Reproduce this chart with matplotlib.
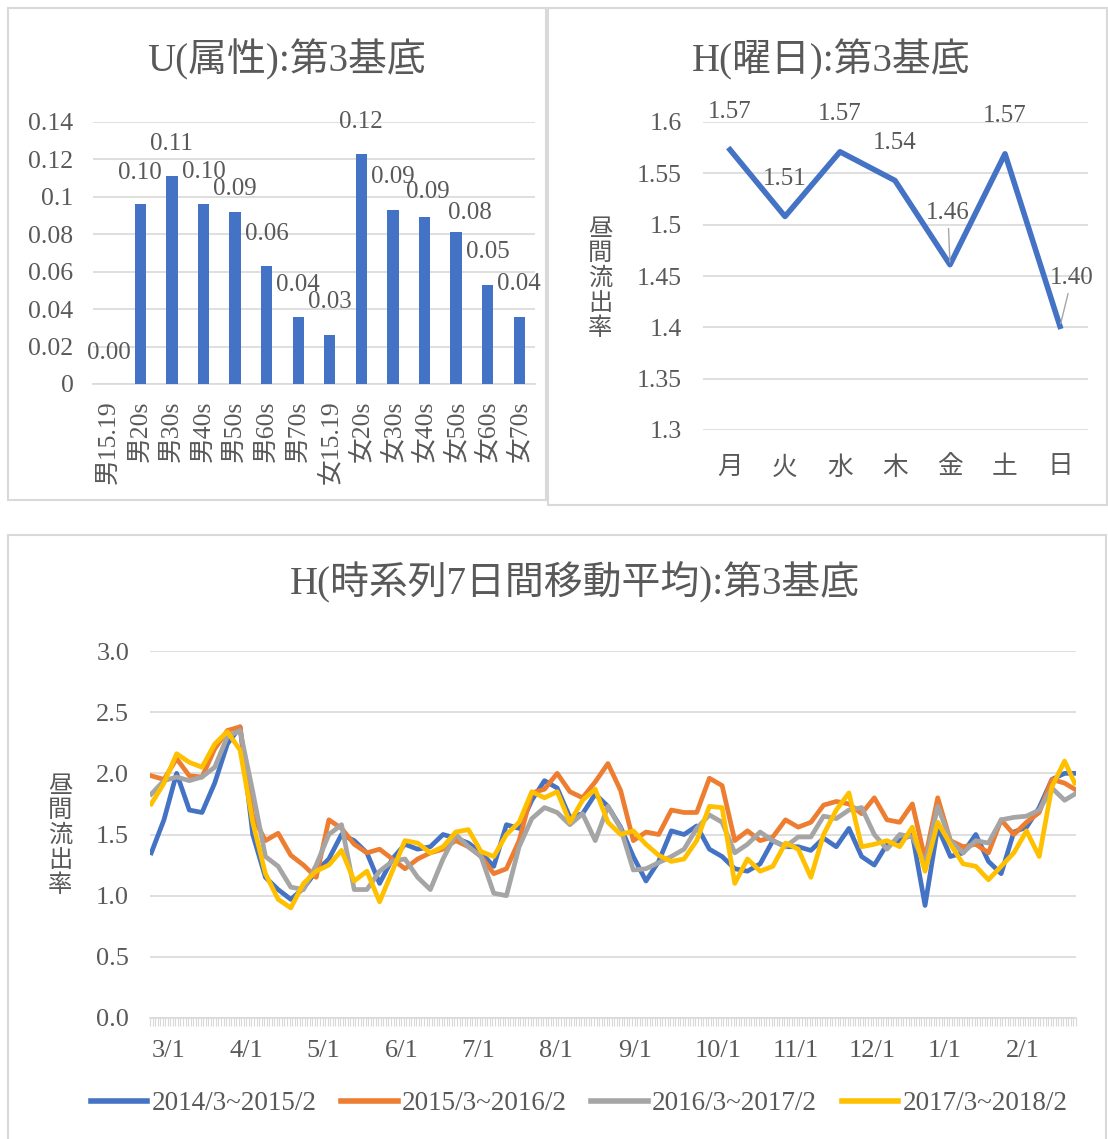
import numpy as np
import matplotlib
matplotlib.use("Agg")
import matplotlib.pyplot as plt
from matplotlib.patches import Rectangle
from matplotlib.lines import Line2D

plt.rcParams['font.family'] = ['Liberation Serif', 'Noto Sans CJK JP']

TXT = '#595959'
GRID = '#d9d9d9'
W, H = 1108, 1139

# U(属性):第3基底
attr_labels = ['男15.19', '男20s', '男30s', '男40s', '男50s', '男60s', '男70s',
               '女15.19', '女20s', '女30s', '女40s', '女50s', '女60s', '女70s']
attr_values = [0.000, 0.096, 0.111, 0.096, 0.092, 0.063, 0.036,
               0.026, 0.123, 0.093, 0.089, 0.081, 0.053, 0.036]

# H(曜日):第3基底
dow_labels = ['月', '火', '水', '木', '金', '土', '日']
dow_values = [1.573, 1.508, 1.571, 1.543, 1.461, 1.569, 1.401]

# H(時系列7日間移動平均):第3基底  (values read every 5 days)
days = list(range(0, 365, 5)) + [364]
month_days = [0, 31, 61, 92, 122, 153, 184, 214, 245, 275, 306, 337]
month_labels = ['3/1', '4/1', '5/1', '6/1', '7/1', '8/1', '9/1', '10/1',
                '11/1', '12/1', '1/1', '2/1']
series_names = ['2014/3~2015/2', '2015/3~2016/2', '2016/3~2017/2', '2017/3~2018/2']

h_2014 = [1.35, 1.62, 2.00, 1.70, 1.68, 1.92, 2.24, 2.38, 1.50, 1.15, 1.05,
          0.97, 1.06, 1.20, 1.30, 1.50, 1.45, 1.35, 1.10, 1.30, 1.42, 1.38,
          1.40, 1.50, 1.47, 1.43, 1.35, 1.24, 1.58, 1.55, 1.78, 1.94,
          1.88, 1.64, 1.67, 1.83, 1.73, 1.56, 1.32, 1.12, 1.28, 1.53, 1.50,
          1.57, 1.38, 1.32, 1.22, 1.20, 1.26, 1.45, 1.40, 1.40, 1.37, 1.47,
          1.40, 1.55, 1.32, 1.25, 1.42, 1.45, 1.50, 0.92, 1.56, 1.32,
          1.35, 1.50, 1.28, 1.18, 1.52, 1.56, 1.72, 1.95, 2.00, 2.00]
h_2015 = [1.98, 1.95, 2.12, 1.98, 1.97, 2.20, 2.35, 2.38, 1.65, 1.45, 1.51,
          1.33, 1.25, 1.15, 1.62, 1.55, 1.42, 1.35, 1.38, 1.30, 1.22, 1.30,
          1.35, 1.38, 1.45, 1.40, 1.32, 1.18, 1.22, 1.45, 1.84, 1.87,
          2.00, 1.85, 1.80, 1.93, 2.08, 1.86, 1.45, 1.52, 1.50, 1.70, 1.68,
          1.68, 1.96, 1.90, 1.45, 1.53, 1.45, 1.48, 1.62, 1.56, 1.60, 1.74,
          1.77, 1.75, 1.67, 1.80, 1.62, 1.60, 1.75, 1.30, 1.80, 1.45,
          1.40, 1.42, 1.35, 1.62, 1.50, 1.60, 1.68, 1.95, 1.92, 1.87]
h_2016 = [1.83, 1.94, 1.97, 1.94, 1.97, 2.05, 2.30, 2.35, 1.85, 1.32, 1.24,
          1.07, 1.05, 1.25, 1.50, 1.58, 1.05, 1.05, 1.20, 1.28, 1.30, 1.15,
          1.05, 1.30, 1.50, 1.40, 1.32, 1.02, 1.00, 1.40, 1.63, 1.72,
          1.68, 1.58, 1.67, 1.45, 1.73, 1.55, 1.21, 1.22, 1.27, 1.32, 1.38,
          1.55, 1.66, 1.60, 1.35, 1.42, 1.52, 1.45, 1.40, 1.48, 1.48, 1.65,
          1.63, 1.70, 1.72, 1.50, 1.38, 1.50, 1.48, 1.26, 1.73, 1.45,
          1.35, 1.45, 1.43, 1.62, 1.64, 1.65, 1.70, 1.88, 1.78, 1.83]
h_2017 = [1.75, 1.92, 2.16, 2.09, 2.05, 2.24, 2.34, 2.19, 1.60, 1.18, 0.97,
          0.90, 1.10, 1.20, 1.25, 1.37, 1.12, 1.20, 0.95, 1.20, 1.45, 1.43,
          1.35, 1.40, 1.52, 1.54, 1.36, 1.32, 1.50, 1.60, 1.85, 1.80,
          1.85, 1.60, 1.78, 1.87, 1.60, 1.50, 1.53, 1.42, 1.33, 1.28, 1.30,
          1.45, 1.73, 1.72, 1.10, 1.30, 1.20, 1.24, 1.43, 1.38, 1.15, 1.50,
          1.70, 1.84, 1.40, 1.42, 1.45, 1.40, 1.56, 1.20, 1.60, 1.42,
          1.26, 1.24, 1.13, 1.24, 1.35, 1.53, 1.32, 1.89, 2.10, 1.92]
series_values = [h_2014, h_2015, h_2016, h_2017]
series_colors = ['#4472C4', '#ED7D31', '#A5A5A5', '#FFC000']


def frac_box(x0, y0, x1, y1):
    return [x0 / W, 1 - y1 / H, (x1 - x0) / W, (y1 - y0) / H]


def style_axes(ax):
    for s in ['top', 'right', 'left']:
        ax.spines[s].set_visible(False)
    ax.spines['bottom'].set_color(GRID)
    ax.spines['bottom'].set_linewidth(1.2)
    ax.yaxis.grid(True, color=GRID, lw=1.2)
    ax.set_axisbelow(True)


fig = plt.figure(figsize=(W / 100, H / 100), dpi=100)

# panel borders
for x0, y0, x1, y1 in [(8, 8, 546, 500), (548, 8, 1107, 505), (8, 535, 1106, 1145)]:
    fig.add_artist(Rectangle((x0 / W, 1 - y1 / H), (x1 - x0) / W, (y1 - y0) / H,
                             transform=fig.transFigure, fill=False, ec=GRID, lw=1.5))

# 1. bar chart
ax1 = fig.add_axes(frac_box(93, 122, 535, 384))
x = np.arange(len(attr_values))
ax1.bar(x, attr_values, width=0.36, color='#4472C4', zorder=3)
ax1.set_xlim(-0.5, len(attr_values) - 0.5)
ax1.set_ylim(0, 0.14)
ax1.set_yticks(np.linspace(0, 0.14, 8))
ax1.set_yticklabels(['0', '0.02', '0.04', '0.06', '0.08', '0.1', '0.12', '0.14'])
ax1.set_xticks(x)
ax1.set_xticklabels(attr_labels, rotation=90)
style_axes(ax1)
ax1.tick_params(axis='y', length=0, labelsize=18.5, colors=TXT, pad=14)
ax1.tick_params(axis='x', length=0, labelsize=18.5, colors=TXT, pad=12)
# label placement (pixels) as Excel nudged them
bar_lbl_dx = [0, 0, 0, 0, 0, 0, 0, 0, 0, 0, 3, 14, 0, 0]
bar_lbl_dy = [31, 31, 32, 32, 23, 32, 32, 33, 32, 33, 25, 19, 33, 33]
for i, v in enumerate(attr_values):
    ax1.annotate(f'{v:.2f}', (i, v),
                 xytext=(bar_lbl_dx[i] * 0.72, bar_lbl_dy[i] * 0.72),
                 textcoords='offset points', ha='center', va='center',
                 fontsize=18, color=TXT)
fig.text(286 / W, 1 - 60 / H, 'U(属性):第3基底', ha='center', va='center',
         fontsize=28, color=TXT)

# 2. day-of-week line
ax2 = fig.add_axes(frac_box(702.5, 122, 1087.5, 430))
xd = np.arange(len(dow_values))
ax2.plot(xd, dow_values, color='#4472C4', lw=4, zorder=3)
ax2.set_xlim(-0.5, len(dow_values) - 0.5)
ax2.set_ylim(1.3, 1.6)
ax2.set_yticks([1.3, 1.35, 1.4, 1.45, 1.5, 1.55, 1.6])
ax2.set_yticklabels(['1.3', '1.35', '1.4', '1.45', '1.5', '1.55', '1.6'])
ax2.set_xticks(xd)
ax2.set_xticklabels(dow_labels)
style_axes(ax2)
ax2.spines['bottom'].set_visible(False)
ax2.tick_params(axis='y', length=0, labelsize=18.5, colors=TXT, pad=15)
ax2.tick_params(axis='x', length=0, labelsize=18.5, colors=TXT, pad=19)
label_offsets = [(0, 27), (0, 27), (0, 27), (0, 27), (-1.5, 37), (0, 27), (8.5, 34.5)]
for i, v in enumerate(dow_values):
    dx, dy = label_offsets[i]
    ax2.annotate(f'{v:.2f}', (i, v), xytext=(dx, dy), textcoords='offset points',
                 ha='center', va='center', fontsize=18, color=TXT,
                 arrowprops=dict(arrowstyle='-', color='#a6a6a6', lw=1,
                                 shrinkA=1, shrinkB=2) if dy > 30 else None)
fig.text(831 / W, 1 - 60 / H, 'H(曜日):第3基底', ha='center', va='center',
         fontsize=28, color=TXT)
fig.text(600 / W, 1 - 280 / H, '\n'.join('昼間流出率'), ha='center', va='center',
         fontsize=17.5, color=TXT, linespacing=1.15)

# 3. time series
ax3 = fig.add_axes(frac_box(150, 651, 1076, 1018))
for vals, name, col in zip(series_values, series_names, series_colors):
    ax3.plot(days, vals, color=col, lw=3.4, label=name)
ax3.set_xlim(-0.5, 364.5)
ax3.set_ylim(0, 3.0)
ax3.set_yticks(np.arange(0, 3.01, 0.5))
ax3.set_yticklabels([f'{t:.1f}' for t in np.arange(0, 3.01, 0.5)])
ax3.set_xticks(month_days)
ax3.set_xticklabels(month_labels, ha='left')
ax3.set_xticks(np.arange(-0.5, 365, 1), minor=True)
style_axes(ax3)
ax3.tick_params(axis='y', length=0, labelsize=19, colors=TXT, pad=15)
ax3.tick_params(axis='x', which='major', length=0, labelsize=19, colors=TXT, pad=16)
ax3.tick_params(axis='x', which='minor', length=6, width=0.8, color=GRID)
fig.text(575 / W, 1 - 583 / H, 'H(時系列7日間移動平均):第3基底', ha='center',
         va='center', fontsize=28, color=TXT)
fig.text(60 / W, 1 - 837 / H, '\n'.join('昼間流出率'), ha='center', va='center',
         fontsize=17.5, color=TXT, linespacing=1.15)

handles = [Line2D([], [], color=c, lw=4) for c in series_colors]
leg = fig.legend(handles, series_names, ncol=4, loc='center',
                 bbox_to_anchor=(579 / W, 1 - 1104 / H), frameon=False,
                 fontsize=19.5, handlelength=2.1, handletextpad=0.15,
                 columnspacing=0.9)
for t in leg.get_texts():
    t.set_color(TXT)

fig.savefig('out.png', dpi=100)
